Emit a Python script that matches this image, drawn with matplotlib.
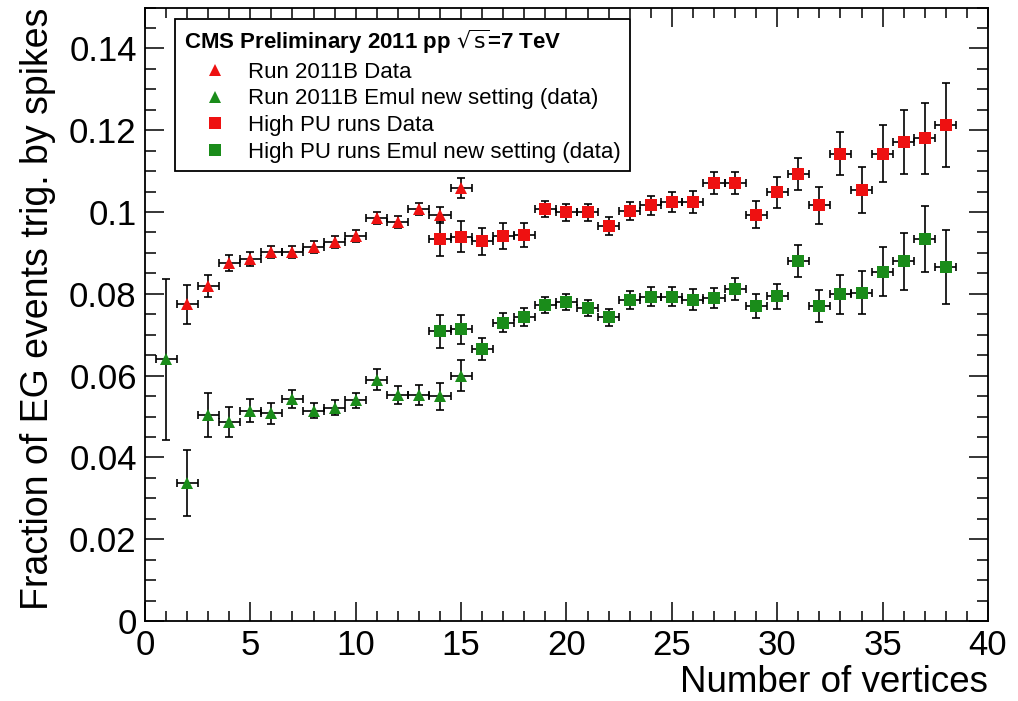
import matplotlib
matplotlib.use("Agg")
from matplotlib import pyplot as plt
from matplotlib.lines import Line2D

plt.rcParams['font.family'] = ['Liberation Sans', 'DejaVu Sans']

# Run 2011B, triangles
x_tri_red = [2, 3, 4, 5, 6, 7, 8, 9, 10, 11, 12, 13, 14, 15]
y_tri_red = [0.0774, 0.0819, 0.0876, 0.0885, 0.0903, 0.0903, 0.0915, 0.0926,
             0.0942, 0.0985, 0.0976, 0.1007, 0.0993, 0.1059]
e_tri_red = [0.0048, 0.0027, 0.0020, 0.0017, 0.0015, 0.0015, 0.0015, 0.0015,
             0.0015, 0.0015, 0.0015, 0.0015, 0.0020, 0.0024]

x_tri_green = [1, 2, 3, 4, 5, 6, 7, 8, 9, 10, 11, 12, 13, 14, 15]
y_tri_green = [0.0640, 0.0337, 0.0504, 0.0487, 0.0514, 0.0508, 0.0543, 0.0514,
               0.0522, 0.0540, 0.0590, 0.0553, 0.0553, 0.0549, 0.0600]
e_tri_green = [0.0197, 0.0081, 0.0053, 0.0037, 0.0028, 0.0026, 0.0022, 0.0018,
               0.0018, 0.0018, 0.0026, 0.0022, 0.0024, 0.0032, 0.0038]

# high PU runs, squares
x_sq = list(range(14, 39))
y_sq_red = [0.0935, 0.0940, 0.0928, 0.0942, 0.0944, 0.1007, 0.0999, 0.0999,
            0.0966, 0.1002, 0.1016, 0.1024, 0.1025, 0.1070, 0.1070, 0.0993,
            0.1048, 0.1093, 0.1016, 0.1143, 0.1054, 0.1143, 0.1171, 0.1180,
            0.1213]
e_sq_red = [0.0043, 0.0037, 0.0033, 0.0032, 0.0030, 0.0020, 0.0020, 0.0020,
            0.0022, 0.0022, 0.0024, 0.0025, 0.0027, 0.0027, 0.0027, 0.0033,
            0.0037, 0.0040, 0.0046, 0.0053, 0.0057, 0.0069, 0.0078, 0.0087,
            0.0103]
y_sq_green = [0.0708, 0.0713, 0.0665, 0.0729, 0.0744, 0.0772, 0.0780, 0.0766,
              0.0743, 0.0786, 0.0793, 0.0793, 0.0786, 0.0790, 0.0811, 0.0770,
              0.0794, 0.0880, 0.0770, 0.0799, 0.0803, 0.0854, 0.0879, 0.0934,
              0.0866]
e_sq_green = [0.0041, 0.0035, 0.0027, 0.0023, 0.0022, 0.0020, 0.0020, 0.0020,
              0.0021, 0.0022, 0.0023, 0.0024, 0.0025, 0.0025, 0.0027, 0.0029,
              0.0031, 0.0039, 0.0040, 0.0048, 0.0053, 0.0060, 0.0069, 0.0081,
              0.0090]

labels = ['Run 2011B Data', 'Run 2011B Emul new setting (data)',
          'High PU runs Data', 'High PU runs Emul new setting (data)']

red = '#ee1111'
green = '#1a8c1a'

fig = plt.figure(figsize=(10.18, 7.01), dpi=100)
ax = fig.add_axes([0.1424, 0.1141, 0.8281, 0.8752])

series = [
    (x_tri_red, y_tri_red, e_tri_red, '^', red),
    (x_tri_green, y_tri_green, e_tri_green, '^', green),
    (x_sq, y_sq_red, e_sq_red, 's', red),
    (x_sq, y_sq_green, e_sq_green, 's', green),
]
for xs, ys, es, m, c in series:
    ax.errorbar(xs, ys, xerr=0.5, yerr=es, fmt='none', ecolor='black',
                elinewidth=1.2, capsize=3, capthick=1.2, zorder=2)
for xs, ys, es, m, c in series:
    ax.plot(xs, ys, m, color=c, markersize=8 if m == 's' else 9,
            markeredgewidth=0, linestyle='none', zorder=3)

ax.set_xlim(0, 40)
ax.set_ylim(0, 0.15)
ax.set_xticks([0, 5, 10, 15, 20, 25, 30, 35, 40])
ax.set_xticklabels(['0', '5', '10', '15', '20', '25', '30', '35', '40'])
ax.set_xticks(range(0, 41), minor=True)
ax.set_yticks([0, 0.02, 0.04, 0.06, 0.08, 0.1, 0.12, 0.14])
ax.set_yticklabels(['0', '0.02', '0.04', '0.06', '0.08', '0.1', '0.12', '0.14'])
ax.set_yticks([i * 0.005 for i in range(31)], minor=True)

ax.tick_params(which='both', direction='in', top=True, right=True,
               labelsize=25, width=1.1, color='black')
ax.tick_params(axis='x', which='major', length=14, pad=6)
ax.tick_params(axis='x', which='minor', length=7)
ax.tick_params(axis='y', which='major', length=14, pad=6)
ax.tick_params(axis='y', which='minor', length=8)
for s in ax.spines.values():
    s.set_linewidth(1.3)

ax.set_xlabel('Number of vertices', fontsize=26.5, loc='right', labelpad=2)
ax.set_ylabel('Fraction of EG events trig. by spikes', fontsize=27,
              loc='top')
ax.yaxis.set_label_coords(-0.105, 1.0)

handles = [Line2D([], [], marker='^', color=red, linestyle='none', markersize=9, markeredgewidth=0),
           Line2D([], [], marker='^', color=green, linestyle='none', markersize=9, markeredgewidth=0),
           Line2D([], [], marker='s', color=red, linestyle='none', markersize=8, markeredgewidth=0),
           Line2D([], [], marker='s', color=green, linestyle='none', markersize=8, markeredgewidth=0)]
leg = ax.legend(handles, labels, loc='upper left', bbox_to_anchor=(0.0356, 0.981),
                fontsize=16, frameon=True, fancybox=False, framealpha=1,
                edgecolor='black', borderpad=0.4, labelspacing=0.25,
                handlelength=2.8, handletextpad=0.1, borderaxespad=0,
                title='CMS Preliminary 2011 pp $\\sqrt{\\mathrm{s}}$=7 TeV',
                title_fontproperties={'size': 16, 'weight': 'bold'},
                alignment='left')
leg.get_frame().set_linewidth(1.3)

fig.savefig('out.png', dpi=100)
